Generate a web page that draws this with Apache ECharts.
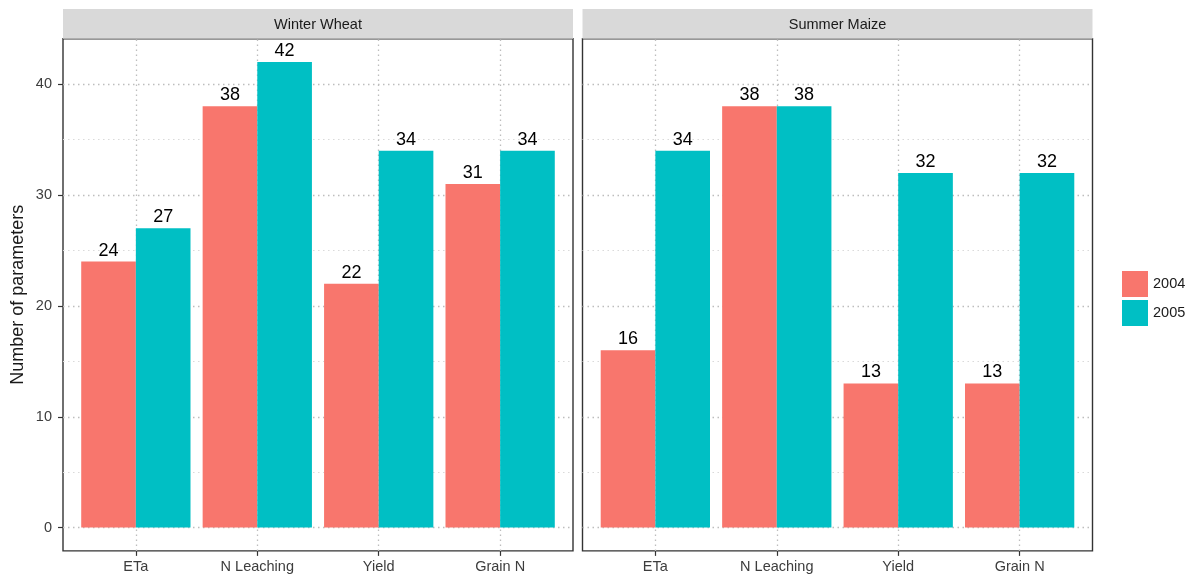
<!DOCTYPE html>
<html><head><meta charset="utf-8">
<script src="https://cdn.jsdelivr.net/npm/echarts@6/dist/echarts.min.js"></script>
<style>html,body{margin:0;padding:0;background:#fff}#c{width:1198px;height:583px}</style>
</head><body><div id="c"></div>
<script>
// ---- data ----
const categories = ['ETa', 'N Leaching', 'Yield', 'Grain N'];
const facets = ['Winter Wheat', 'Summer Maize'];
const years = ['2004', '2005'];
const wheat2004 = [24, 38, 22, 31];
const wheat2005 = [27, 42, 34, 34];
const maize2004 = [16, 38, 13, 13];
const maize2005 = [34, 38, 32, 32];
const yTicks = [0, 10, 20, 30, 40];
const yAxisTitle = 'Number of parameters';

// ---- layout / style ----
const colors = ['#F8766D', '#00BFC4'];
const font = "'Liberation Sans', Arial, sans-serif";
const axisTextColor = '#3d3d3d';
const panels = [{ x: 63, w: 510 }, { x: 582.5, w: 510 }];
const panelData = [[wheat2004, wheat2005], [maize2004, maize2005]];
const zeroY = 527.6, unit = 11.085;
const yLo = -2.1, yHi = 44.1;
const frameTop = zeroY - yHi * unit;
const frameH = (yHi - yLo) * unit;
const tickMax = yTicks[yTicks.length - 1];
const tickStep = yTicks[1] - yTicks[0];
const expand = 0.6; // ggplot discrete expansion (in category units)
const nCat = categories.length;
const majorLine = { color: '#bdbdbd', type: [1.5, 3.5], width: 1.3 };
const minorLine = { color: '#dadada', type: [1.5, 3.5], width: 1.1 };

const grids = [], xAxes = [], yAxes = [], series = [], graphics = [];
panels.forEach((p, i) => {
  const catW = p.w / (nCat - 1 + 2 * expand);
  const inset = catW * (expand - 0.5);
  // frame grid
  grids.push({ left: p.x, top: frameTop, width: p.w, height: frameH, show: true,
    borderColor: '#333', borderWidth: 1.4, backgroundColor: 'transparent' });
  xAxes.push({ gridIndex: 3 * i, type: 'value', show: false, min: 0, max: 1 });
  yAxes.push({ gridIndex: 3 * i, type: 'value', min: yLo, max: yHi, show: i === 0,
    axisLine: { show: false }, axisTick: { show: false }, axisLabel: { show: false },
    splitLine: { show: false },
    name: i === 0 ? yAxisTitle : '', nameLocation: 'middle', nameGap: 36,
    nameTextStyle: { fontSize: 18, color: '#1a1a1a', fontFamily: font } });
  // y-axis grid (ticks, labels, horizontal grid lines)
  grids.push({ left: p.x, top: zeroY - tickMax * unit, width: p.w, height: tickMax * unit });
  xAxes.push({ gridIndex: 3 * i + 1, type: 'value', show: false, min: 0, max: 1 });
  yAxes.push({ gridIndex: 3 * i + 1, type: 'value', min: yTicks[0], max: tickMax, interval: tickStep,
    axisLine: { show: false },
    axisTick: { show: i === 0, length: 5, lineStyle: { color: '#333', width: 1.2 } },
    axisLabel: { show: i === 0, margin: 11, fontSize: 14.5, color: axisTextColor, fontFamily: font },
    splitLine: { show: true, lineStyle: majorLine },
    minorTick: { show: false, splitNumber: 2 },
    minorSplitLine: { show: true, lineStyle: minorLine } });
  // bar grid
  grids.push({ left: p.x + inset, top: frameTop, width: p.w - 2 * inset, height: frameH });
  xAxes.push({ gridIndex: 3 * i + 2, type: 'category', data: categories,
    axisLine: { show: false, onZero: false },
    axisTick: { show: true, alignWithLabel: true, length: 5, lineStyle: { color: '#333', width: 1.2 } },
    axisLabel: { margin: 9, fontSize: 14.5, color: axisTextColor, fontFamily: font },
    splitLine: { show: false } });
  yAxes.push({ gridIndex: 3 * i + 2, type: 'value', min: yLo, max: yHi, show: false });
  // vertical grid lines at category centres
  series.push({ type: 'line', xAxisIndex: 3 * i + 2, yAxisIndex: 3 * i + 2, data: [], z: 1,
    silent: true,
    markLine: { silent: true, symbol: 'none', z: 1, label: { show: false },
      lineStyle: majorLine, data: categories.map(c => ({ xAxis: c })) } });
  years.forEach((yr, k) => {
    series.push({
      type: 'bar', name: yr, xAxisIndex: 3 * i + 2, yAxisIndex: 3 * i + 2,
      data: panelData[i][k], barGap: '0%', barCategoryGap: '10%',
      itemStyle: { color: colors[k] },
      label: { show: true, position: 'top', distance: 2, fontSize: 18, color: '#000', fontFamily: font },
      z: 2
    });
  });
  // strip
  graphics.push({ type: 'rect', shape: { x: p.x, y: 9, width: p.w, height: frameTop - 9 },
    style: { fill: '#d9d9d9' }, z: 0 });
  graphics.push({ type: 'text', x: p.x + p.w / 2, y: (9 + frameTop) / 2 + 1,
    style: { text: facets[i], textAlign: 'center', textVerticalAlign: 'middle',
      fontSize: 14.5, fill: '#1a1a1a', fontFamily: font }, z: 1 });
});

const chart = echarts.init(document.getElementById('c'));
chart.setOption({
  animation: false,
  backgroundColor: '#fff',
  grid: grids, xAxis: xAxes, yAxis: yAxes, series: series,
  graphic: graphics,
  legend: { data: years, orient: 'vertical', left: 1122, top: 271, itemWidth: 26, itemHeight: 26,
    itemGap: 3, icon: 'rect', padding: 0, selectedMode: false,
    textStyle: { fontSize: 14.5, color: '#1a1a1a', fontFamily: font } }
});
</script></body></html>
